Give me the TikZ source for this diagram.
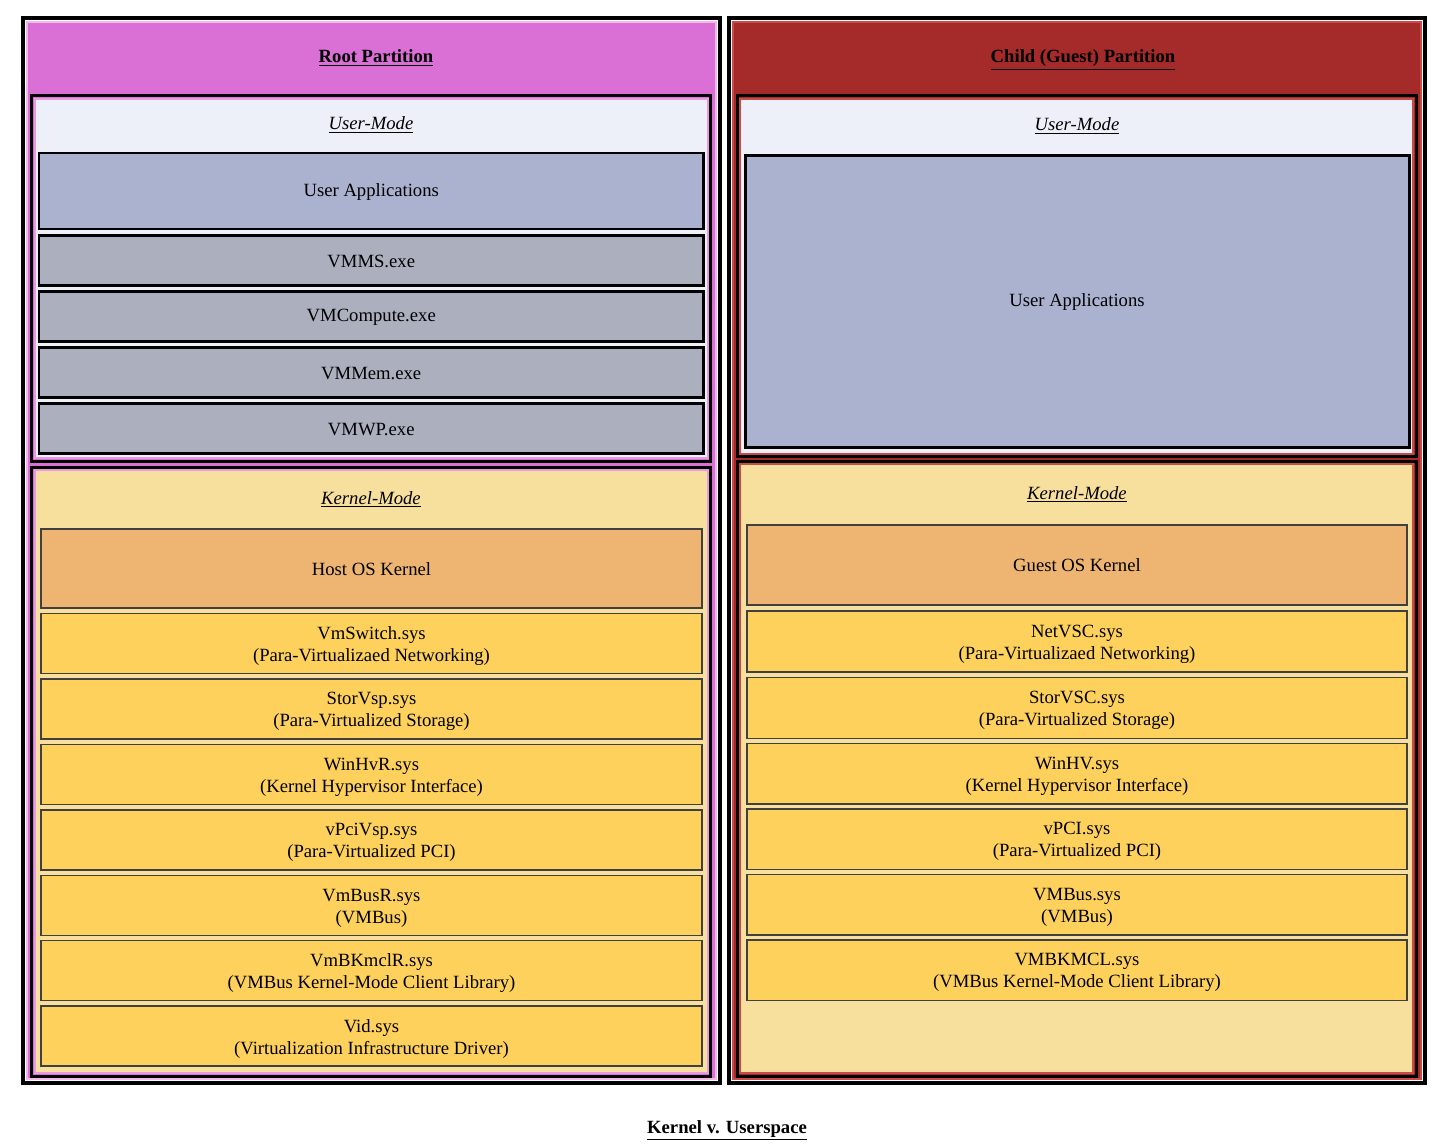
\documentclass[tikz,border=0pt]{standalone}
\usepackage{fontspec}
\setmainfont{Liberation Serif}
\usetikzlibrary{fit}
\definecolor{orchidc}{HTML}{DA70D6}
\definecolor{brownc}{HTML}{A52A2A}
\definecolor{orchidline}{HTML}{F2B8EE}
\definecolor{pinkline}{HTML}{E89AE2}
\definecolor{redline}{HTML}{C94A46}
\definecolor{umfill}{HTML}{EDF0F8}
\definecolor{kmfill}{HTML}{F7DF9D}
\definecolor{appfill}{HTML}{AAB2D0}
\definecolor{exefill}{HTML}{ABAFBE}
\definecolor{hostfill}{HTML}{EEB572}
\definecolor{drvfill}{HTML}{FDD15C}
\newcommand\bx[7]{\node[#6, fit={(#2,#3)(#4,#5)}] (#1) {};
  \node[yshift=-1.9pt] (#1-text) at (#1.center) {#7};}
\newcommand\bxs[7]{\node[#6, fit={(#2,#3)(#4,#5)}] (#1) {};
  \node[yshift=-0.4pt] (#1-text) at (#1.center) {#7};}
\begin{document}
\begin{tikzpicture}[x=0.75pt,y=-0.75pt,
  font=\fontsize{14}{16.5}\selectfont,
  every node/.style={inner sep=0pt, outer sep=0pt, align=center},
  frame/.style={draw=black, line width=3pt},
  clus/.style={draw=black, line width=2.25pt},
  ttl/.style={anchor=base},
  ubox/.style={draw=black, line width=2pt, fill=appfill},
  ebox/.style={draw=black, line width=2pt, fill=exefill},
  hbox/.style={draw=black!75, line width=1.4pt, fill=hostfill},
  dbox/.style={draw=black!75, line width=1.4pt, fill=drvfill}]
\useasboundingbox (0,0) rectangle (1447,1148);
% ---------- left partition ----------
\bxs{lframe}{23}{18}{720}{1083}{frame}{}
\bxs{lpart}{27}{22}{716}{1079}{fill=orchidc, draw=orchidline, line width=1pt}{}
\node[ttl] (ltitle) at (376,63) {\underline{\textbf{Root Partition}}};
\bxs{luser}{31.5}{96}{710.5}{461}{clus}{}
\bxs{luserin}{34.5}{99}{707.5}{458}{fill=umfill, draw=pinkline, line width=1.5pt}{}
\node[ttl] (lutitle) at (371,130) {\underline{\textit{User-Mode}}};
\bxs{lapps}{39}{153}{703.5}{229}{ubox}{User Applications}
\bxs{vmms}{39}{235.5}{703.5}{285.5}{ebox}{VMMS.exe}
\bxs{vmcompute}{39}{291.5}{703.5}{341.5}{ebox}{VMCompute.exe}
\bxs{vmmem}{39}{347.5}{703.5}{397.5}{ebox}{VMMem.exe}
\bxs{vmwp}{39}{403.5}{703.5}{453.5}{ebox}{VMWP.exe}
\bxs{lkern}{31.5}{467}{710.5}{1076}{clus}{}
\bxs{lkernin}{34.5}{470}{707.5}{1073}{fill=kmfill, draw=pinkline, line width=1.5pt}{}
\node[ttl] (lktitle) at (371,504) {\underline{\textit{Kernel-Mode}}};
\bxs{hostk}{41}{529}{702}{608}{hbox}{Host OS Kernel}
\bx{vmswitch}{41}{613.5}{702}{673.5}{dbox}{VmSwitch.sys\\(Para-Virtualizaed Networking)}
\bx{storvsp}{41}{679}{702}{739}{dbox}{StorVsp.sys\\(Para-Virtualized Storage)}
\bx{winhvr}{41}{744.5}{702}{804.5}{dbox}{WinHvR.sys\\(Kernel Hypervisor Interface)}
\bx{vpcivsp}{41}{810}{702}{870}{dbox}{vPciVsp.sys\\(Para-Virtualized PCI)}
\bx{vmbusr}{41}{875.5}{702}{935.5}{dbox}{VmBusR.sys\\(VMBus)}
\bx{vmbkmclr}{41}{940.5}{702}{1000.5}{dbox}{VmBKmclR.sys\\(VMBus Kernel-Mode Client Library)}
\bx{vidsys}{41}{1006}{702}{1066}{dbox}{Vid.sys\\(Virtualization Infrastructure Driver)}
% ---------- right partition ----------
\bxs{rframe}{729}{18}{1425}{1083}{frame}{}
\bxs{rpart}{733}{22}{1421}{1079}{fill=brownc, draw=redline, line width=1pt}{}
\node[ttl] (rtitle) at (1083,63) {\underline{\textbf{Child (Guest) Partition}}};
\bxs{ruser}{737}{96}{1416}{457}{clus}{}
\bxs{ruserin}{740}{99}{1413}{454}{fill=umfill, draw=redline, line width=1.5pt}{}
\node[ttl] (rutitle) at (1077,131) {\underline{\textit{User-Mode}}};
\bxs{rapps}{745}{155.5}{1409}{448}{draw=black, line width=2.25pt, fill=appfill}{User Applications}
\bxs{rkern}{737}{461}{1416}{1076}{clus}{}
\bxs{rkernin}{740}{464}{1413}{1073}{fill=kmfill, draw=redline, line width=1.5pt}{}
\node[ttl] (rktitle) at (1077,499) {\underline{\textit{Kernel-Mode}}};
\bxs{guestk}{747}{525}{1407}{605}{hbox}{Guest OS Kernel}
\bx{netvsc}{747}{611}{1407}{672}{dbox}{NetVSC.sys\\(Para-Virtualizaed Networking)}
\bx{storvsc}{747}{677.5}{1407}{738.5}{dbox}{StorVSC.sys\\(Para-Virtualized Storage)}
\bx{winhv}{747}{743.5}{1407}{804}{dbox}{WinHV.sys\\(Kernel Hypervisor Interface)}
\bx{vpci}{747}{809}{1407}{869.5}{dbox}{vPCI.sys\\(Para-Virtualized PCI)}
\bx{vmbus}{747}{874.5}{1407}{935}{dbox}{VMBus.sys\\(VMBus)}
\bx{vmbkmcl}{747}{940}{1407}{1000.5}{dbox}{VMBKMCL.sys\\(VMBus Kernel-Mode Client Library)}
% ---------- caption ----------
\node[ttl] (caption) at (727,1133) {\underline{\textbf{Kernel v. Userspace}}};
\end{tikzpicture}
\end{document}
